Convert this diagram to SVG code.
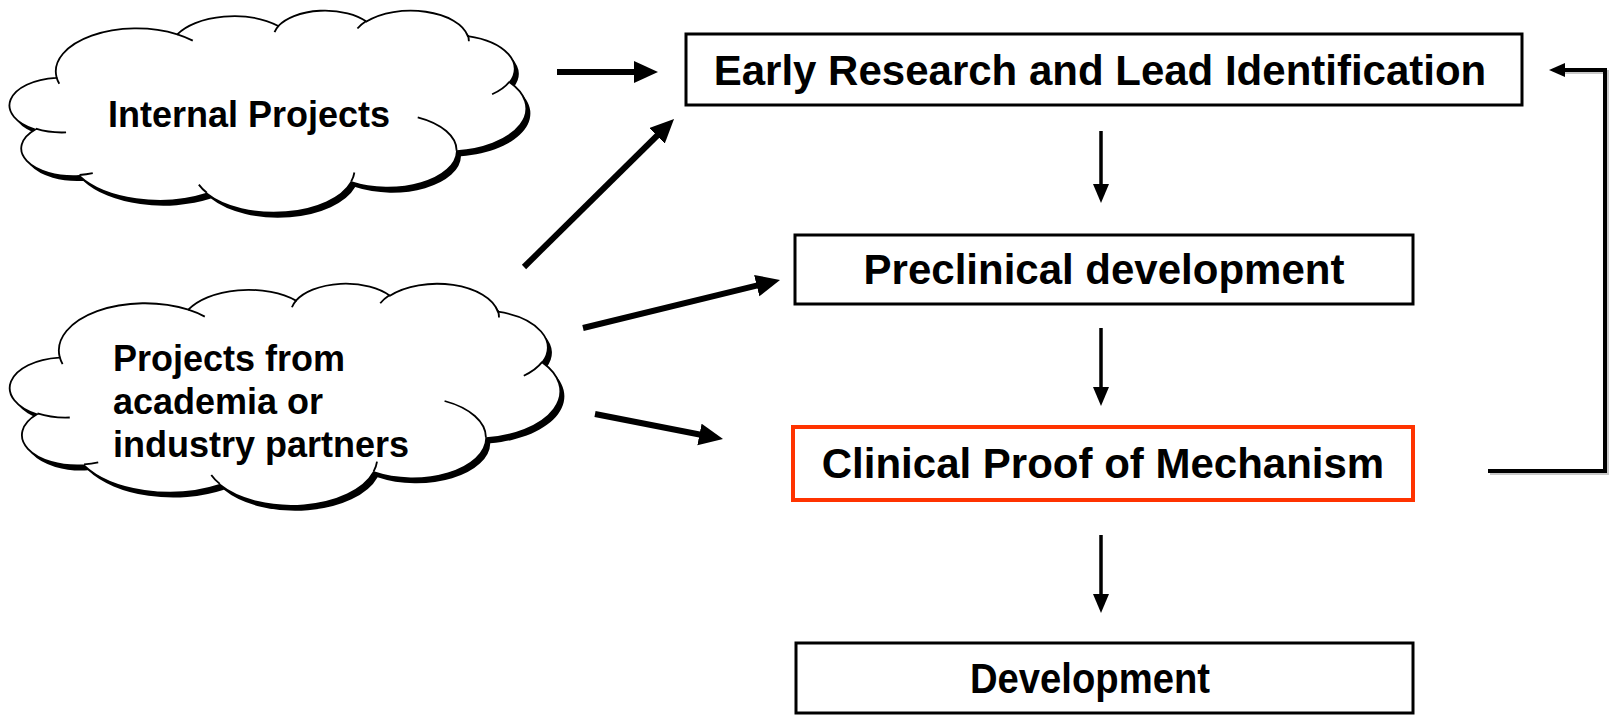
<svg xmlns="http://www.w3.org/2000/svg" xmlns:xlink="http://www.w3.org/1999/xlink" width="1609" height="715" viewBox="0 0 1609 715">
<style>
  .box { fill: #ffffff; stroke: #000000; stroke-width: 3; }
  .box-red { fill: #ffffff; stroke: #ff3300; stroke-width: 4; }
  .lbl { font-family: "Liberation Sans", Arial, sans-serif; font-weight: bold; font-size: 42px; fill: #000000; text-anchor: middle; }
  .cl { font-family: "Liberation Sans", Arial, sans-serif; font-weight: bold; font-size: 36px; fill: #000000; }
  .thick { stroke: #000000; stroke-width: 6; fill: none; marker-end: url(#headBig); }
  .thin { stroke: #000000; stroke-width: 3.5; fill: none; marker-end: url(#headThin); }
  .fb { stroke: #000000; stroke-width: 4; fill: none; }
  .fbShadow { stroke: #c8c8c8; stroke-width: 4; fill: none; }
  .cloud { fill: #ffffff; stroke: #000000; stroke-width: 1.8; }
  .cloudShadow { fill: #000000; stroke: none; }
  .cloudInner { fill: none; stroke: #000000; stroke-width: 1.8; }
</style>
<defs>
  <marker id="headBig" markerUnits="userSpaceOnUse" markerWidth="26" markerHeight="24" refX="4" refY="11" orient="auto">
    <path d="M0,0 L24,11 L0,22 Z" fill="#000000"/>
  </marker>
  <marker id="headThin" markerUnits="userSpaceOnUse" markerWidth="22" markerHeight="18" refX="3" refY="8" orient="auto">
    <path d="M0,0 L19,8 L0,16 Z" fill="#000000"/>
  </marker>
  <marker id="headFb" markerUnits="userSpaceOnUse" markerWidth="18" markerHeight="16" refX="3" refY="7" orient="auto">
    <path d="M0,0 L16,7 L0,14 Z" fill="#000000"/>
  </marker>
  <path id="cloud1" d="M56.0 77.2 A79.73 42.97 0 0 1 175.3 34.3 A62.96 33.98 0 0 1 275.1 26.0 A51.53 27.80 0 0 1 362.2 21.6 A57.34 30.84 0 0 1 462.4 36.1 A62.96 34.01 0 0 1 503.7 82.3 A79.99 43.11 0 0 1 451.6 151.2 A68.30 36.79 0 0 1 347.1 182.1 A79.71 43.09 0 0 1 204.6 193.6 A91.14 49.30 0 0 1 78.5 175.9 A51.47 27.67 0 0 1 35.0 129.5 A51.30 27.80 0 0 1 55.6 77.8 Z"/>
  <path id="cloud2" d="M59.0 356.8 A84.88 47.23 0 0 1 186.0 309.7 A67.03 37.35 0 0 1 292.3 300.6 A54.86 30.55 0 0 1 385.0 295.7 A61.05 33.89 0 0 1 491.6 311.7 A67.03 37.38 0 0 1 535.6 362.4 A85.15 47.38 0 0 1 480.1 438.2 A72.71 40.43 0 0 1 368.9 472.2 A84.87 47.36 0 0 1 217.2 484.8 A97.03 54.18 0 0 1 83.0 465.3 A54.80 30.41 0 0 1 36.6 414.3 A54.61 30.55 0 0 1 58.6 357.6 Z"/>
</defs>
<rect x="0" y="0" width="1609" height="715" fill="#ffffff"/>

<g id="cloud-internal">
  <g transform="translate(10,0) scale(1.012,1) translate(-10,0)">
    <use xlink:href="#cloud1" class="cloudShadow" transform="translate(4,5)"/>
    <use xlink:href="#cloud1" class="cloud"/>
    <path class="cloudInner" d="M65.4 132.4 A51.30 27.80 0 0 1 35.5 128.7 M91.8 173.2 A51.47 27.67 0 0 1 78.7 175.0 M204.5 192.8 A79.71 43.09 0 0 1 196.6 184.6 M350.3 172.5 A79.71 43.09 0 0 1 347.2 181.4 M412.9 117.3 A68.30 36.79 0 0 1 451.3 150.7 M503.5 81.8 A62.96 34.01 0 0 1 486.4 94.3 M462.5 35.4 A57.34 30.84 0 0 1 463.4 41.3 M353.3 28.5 A57.34 30.84 0 0 1 362.0 20.9 M271.4 32.1 A51.53 27.80 0 0 1 275.6 25.6 M175.3 34.3 A79.73 42.97 0 0 1 190.6 40.6 M58.7 83.8 A79.73 42.97 0 0 1 56.0 77.2"/>
  </g>
  <text class="cl" x="108" y="127">Internal Projects</text>
</g>

<g id="cloud-academia">
  <g transform="translate(10,0) scale(1.013,1) translate(-10,0)">
    <use xlink:href="#cloud2" class="cloudShadow" transform="translate(4,5)"/>
    <use xlink:href="#cloud2" class="cloud"/>
    <path class="cloudInner" d="M69.0 417.5 A54.61 30.55 0 0 1 37.1 413.4 M97.1 462.3 A54.80 30.41 0 0 1 83.1 464.3 M217.1 483.9 A84.87 47.36 0 0 1 208.7 474.9 M372.3 461.6 A84.87 47.36 0 0 1 369.0 471.4 M439.0 401.0 A72.71 40.43 0 0 1 479.8 437.6 M535.4 361.9 A67.03 37.38 0 0 1 517.2 375.7 M491.7 310.9 A61.05 33.89 0 0 1 492.7 317.4 M375.5 303.3 A61.05 33.89 0 0 1 384.8 295.0 M288.3 307.3 A54.86 30.55 0 0 1 292.8 300.1 M186.0 309.7 A84.88 47.23 0 0 1 202.3 316.6 M61.9 364.1 A84.88 47.23 0 0 1 59.0 356.8"/>
  </g>
  <text class="cl" x="113" y="371">Projects from</text>
  <text class="cl" x="113" y="414">academia or</text>
  <text class="cl" x="113" y="457">industry partners</text>
</g>

<g id="node-early">
  <rect class="box" x="686" y="34" width="836" height="71"/>
  <text class="lbl" x="1100" y="85">Early Research and Lead Identification</text>
</g>
<g id="node-preclinical">
  <rect class="box" x="795" y="235" width="618" height="69"/>
  <text class="lbl" x="1104" y="284">Preclinical development</text>
</g>
<g id="node-clinical">
  <rect class="box-red" x="793" y="427" width="620" height="73"/>
  <text class="lbl" x="1103" y="478">Clinical Proof of Mechanism</text>
</g>
<g id="node-development">
  <rect class="box" x="796" y="643" width="617" height="70"/>
  <text class="lbl" x="1090" y="693" textLength="240" lengthAdjust="spacingAndGlyphs">Development</text>
</g>

<g id="connectors">
  <line class="thick" x1="557" y1="72" x2="638" y2="72"/>
  <line class="thick" x1="524" y1="267" x2="659.8" y2="133"/>
  <line class="thick" x1="583" y1="328" x2="760.6" y2="284.7"/>
  <line class="thick" x1="595" y1="414" x2="703.4" y2="435.2"/>
  <line class="thin" x1="1101" y1="131" x2="1101" y2="187"/>
  <line class="thin" x1="1101" y1="328" x2="1101" y2="390"/>
  <line class="thin" x1="1101" y1="535" x2="1101" y2="597"/>
  <polyline class="fbShadow" points="1490,473 1607,473 1607,72 1564,72"/>
  <polyline class="fb" points="1488,471 1605,471 1605,70 1562,70" marker-end="url(#headFb)"/>
</g>
</svg>
